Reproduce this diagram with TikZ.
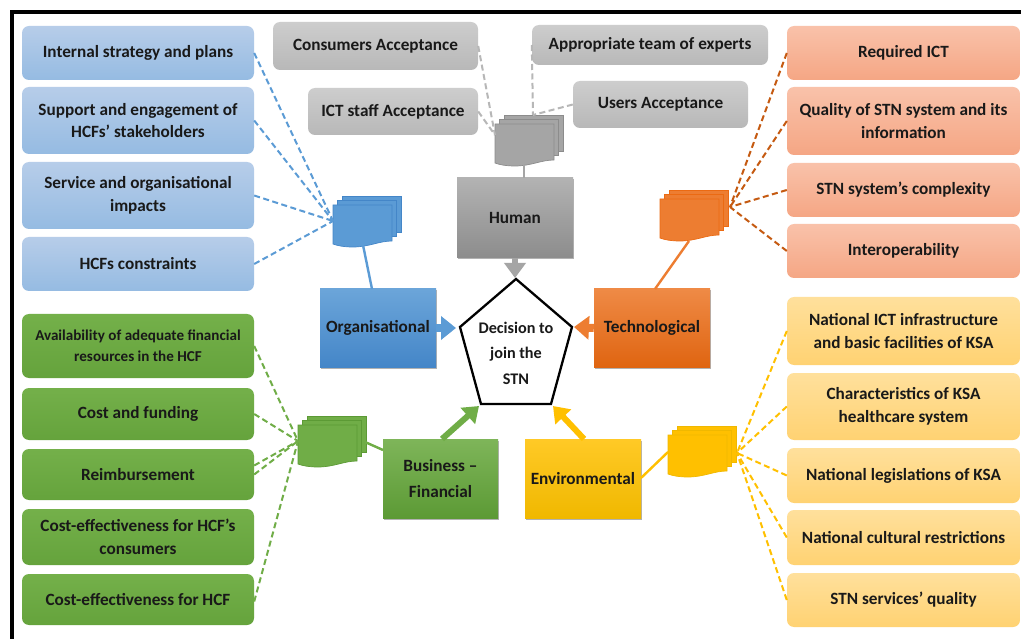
\documentclass[tikz,border=0pt]{standalone}
\usepackage{fontspec}
\setmainfont{Carlito}[BoldFont=Carlito Bold]
\usetikzlibrary{arrows.meta,shadows,calc}
\definecolor{bluehi}{HTML}{B7CDE9}\definecolor{bluelo}{HTML}{95BBE2}
\definecolor{bluemain}{HTML}{5B9BD5}\definecolor{bluedark}{HTML}{4486C8}
\definecolor{greenhi}{HTML}{74B04A}\definecolor{greenlo}{HTML}{65A33C}
\definecolor{greenmain}{HTML}{70AD47}\definecolor{greendark}{HTML}{5C9A35}
\definecolor{greyhi}{HTML}{CDCDCD}\definecolor{greylo}{HTML}{B8B8B8}
\definecolor{greymain}{HTML}{A5A5A5}\definecolor{greydark}{HTML}{8C8C8C}
\definecolor{orhi}{HTML}{F9C2AA}\definecolor{orlo}{HTML}{F5A684}
\definecolor{ormain}{HTML}{ED7D31}\definecolor{ordark}{HTML}{EB6A12}
\definecolor{orline}{HTML}{C55A11}
\definecolor{yehi}{HTML}{FFE09C}\definecolor{yelo}{HTML}{FFD272}
\definecolor{yemain}{HTML}{FFC000}\definecolor{yedark}{HTML}{F0B800}
\tikzset{
  x=1pt,y=-1pt,
  txt/.style={font=\fontsize{17.2}{22.5}\selectfont\bfseries,text=black!90,align=center},
  factor/.style={txt,rounded corners=7pt,inner sep=0pt},
  bluebox/.style={factor,top color=bluehi,bottom color=bluelo},
  greenbox/.style={factor,top color=greenhi,bottom color=greenlo},
  greybox/.style={factor,top color=greyhi,bottom color=greylo},
  orbox/.style={factor,top color=orhi,bottom color=orlo},
  yebox/.style={factor,top color=yehi,bottom color=yelo},
  cat/.style={txt,font=\fontsize{17.2}{26}\selectfont\bfseries,inner sep=0pt,
    drop shadow={shadow xshift=1pt,shadow yshift=-1.5pt,opacity=.3,fill=black}},
  dashlink/.style={dash pattern=on 6pt off 3.5pt,line width=2pt},
  solidlink/.style={line width=2.4pt},
  widearrow/.style={line width=8pt,-{Triangle[length=15pt,width=23pt]}},
  narrowarrow/.style={line width=6pt,-{Triangle[length=15pt,width=21pt]}},
  docline/.style={line width=.7pt},
}
\newcommand{\docsheet}[4]{%
  \fill[#3] (#1,#2) rectangle ++(59,36);
  \draw[docline,#4] (#1,#2) rectangle ++(59,36);
}
\newcommand{\docstack}[5]{%
  \coordinate (#1) at (#2,#3);
  \docsheet{#2+9}{#3-9}{#4}{#5}
  \docsheet{#2+4.5}{#3-4.5}{#4}{#5}
  \begin{scope}[shift={(#2,#3)}]
  \draw[docline,#5,fill=#4] (0,0) -- (59,0) -- (59,36)
     .. controls (46,36) and (36,42) .. (20,42)
     .. controls (12,42) and (5,41) .. (0,39) -- cycle;
  \end{scope}
}
\begin{document}
\begin{tikzpicture}
\useasboundingbox (0,0) rectangle (1021,639);
\fill[white] (0,0) rectangle (1021,639);
% frame
\draw[line width=4pt,black] (11.5,650) -- (11.5,12.5) -- (1030,12.5);

% stacks
\docstack{sb}{333}{205}{bluemain}{bluedark}
\docstack{sg}{495}{124}{greymain}{greydark}
\docstack{so}{660}{199}{ormain}{ordark}
\docstack{sn}{298}{425}{greenmain}{greendark}
\docstack{sy}{668}{435}{yemain}{yedark}
\coordinate (hb) at (333,221);
\coordinate (hgl) at (495,135);
\coordinate (hgr) at (533,115);
\coordinate (ho) at (730,207);
\coordinate (hn) at (298,441);
\coordinate (hy) at (737,453);

% factor boxes
\node[bluebox,minimum width=232pt,minimum height=54pt] (b1) at (138,53) {Internal strategy and plans};
\node[bluebox,minimum width=232pt,minimum height=67pt] (b2) at (138,120.5) {Support and engagement of\\HCFs’ stakeholders};
\node[bluebox,minimum width=232pt,minimum height=67pt] (b3) at (138,195.5) {Service and organisational\\impacts};
\node[bluebox,minimum width=232pt,minimum height=54pt] (b4) at (138,264) {HCFs constraints};

\node[greenbox,minimum width=232pt,minimum height=64pt,font=\fontsize{15.1}{21}\selectfont\bfseries] (n1) at (138,346) {Availability of adequate financial\\resources in the HCF};
\node[greenbox,minimum width=232pt,minimum height=52pt] (n2) at (138,414) {Cost and funding};
\node[greenbox,minimum width=232pt,minimum height=51pt] (n3) at (138,474.5) {Reimbursement};
\node[greenbox,minimum width=232pt,minimum height=56pt] (n4) at (138,537) {Cost-effectiveness for HCF’s\\consumers};
\node[greenbox,minimum width=232pt,minimum height=51pt] (n5) at (138,599.5) {Cost-effectiveness for HCF};

\node[greybox,minimum width=205pt,minimum height=48pt] (g1) at (375.5,46) {Consumers Acceptance};
\node[greybox,minimum width=170pt,minimum height=47pt] (g2) at (393,111.5) {ICT staff Acceptance};
\node[greybox,minimum width=236pt,minimum height=40pt] (g3) at (650,45) {Appropriate team of experts};
\node[greybox,minimum width=175pt,minimum height=47pt] (g4) at (660.5,104.5) {Users Acceptance};

\node[orbox,minimum width=233pt,minimum height=54pt] (o1) at (903.5,53) {Required ICT};
\node[orbox,minimum width=233pt,minimum height=68pt] (o2) at (903.5,121) {Quality of STN system and its\\information};
\node[orbox,minimum width=233pt,minimum height=54pt] (o3) at (903.5,190) {STN system’s complexity};
\node[orbox,minimum width=233pt,minimum height=54pt] (o4) at (903.5,251) {Interoperability};

\node[yebox,minimum width=233pt,minimum height=68pt] (y1) at (903.5,331) {National ICT infrastructure\\and basic facilities of KSA};
\node[yebox,minimum width=233pt,minimum height=67pt] (y2) at (903.5,406.5) {Characteristics of KSA\\healthcare system};
\node[yebox,minimum width=233pt,minimum height=55pt] (y3) at (903.5,475.5) {National legislations of KSA};
\node[yebox,minimum width=233pt,minimum height=55pt] (y4) at (903.5,537.5) {National cultural restrictions};
\node[yebox,minimum width=233pt,minimum height=54pt] (y5) at (903.5,600) {STN services’ quality};

% category boxes
\node[cat,minimum width=116pt,minimum height=80pt,top color=greymain!85!white,bottom color=greymain!85!black] (human) at (515,218) {Human};
\node[cat,minimum width=116pt,minimum height=78pt,top color=bluemain!90!white,bottom color=bluedark] (org) at (378,328) {Organisational};
\node[cat,minimum width=116pt,minimum height=78pt,top color=ormain!90!white,bottom color=ordark!95!black] (tec) at (652,328) {Technological};
\node[cat,minimum width=115pt,minimum height=79pt,top color=greenmain!90!white,bottom color=greendark] (bus) at (440.5,478.5) {Business –\\Financial};
\node[cat,minimum width=116pt,minimum height=79pt,top color=yemain!85!white,bottom color=yedark] (env) at (583,478.5) {Environmental};

% central pentagon
\coordinate (p1) at (516,279);\coordinate (p2) at (572,327);\coordinate (p3) at (551,404);\coordinate (p4) at (481,404);\coordinate (p5) at (460,327);
\draw[line width=2.3pt,black,fill=white,line join=miter] (p1)--(p2)--(p3)--(p4)--(p5)--cycle;
\node[txt,font=\fontsize{16.2}{25.5}\selectfont\bfseries] (dec) at (516,353) {Decision to\\join the\\STN};

% dashed connectors
\foreach \n in {b1,b2,b3,b4}{\draw[dashlink,bluemain] (\n.east) -- (hb);}
\draw[dashlink,greenmain] (n1.east) -- (hn);
\draw[dashlink,greenmain] (n2.east) -- (hn);
\draw[dashlink,greenmain] ([yshift=9pt]n3.east) -- (hn);
\draw[dashlink,greenmain] (n3.east) -- (hn);
\draw[dashlink,greenmain] ([yshift=-2pt]n5.east) -- (hn);
\draw[dashlink,greymain!80!white] (g1.east) -- (hgl);
\draw[dashlink,greymain!80!white] (g2.east) -- (hgl);
\draw[dashlink,greymain!80!white] (g3.west) -- (hgr);
\draw[dashlink,greymain!80!white] (g4.west) -- (hgr);
\foreach \n in {o1,o2,o3,o4}{\draw[dashlink,orline] (\n.west) -- (ho);}
\foreach \n in {y1,y2,y3,y4,y5}{\draw[dashlink,yemain] (\n.west) -- (hy);}

% solid connectors from stacks to categories
\coordinate (sbb) at (363,245);\coordinate (sgb) at (524,165);\coordinate (sob) at (689,241);\coordinate (snb) at (365,442);\coordinate (syb) at (668,452);
\draw[solidlink,bluemain] (sbb) -- (372,289);
\draw[solidlink,greymain] (sgb) -- (524,178);
\draw[solidlink,ormain] (sob) -- (655,289);
\draw[solidlink,greenmain] (snb) -- (383,450);
\draw[solidlink,yemain] (syb) -- (641,478);

% block arrows
\draw[widearrow,bluemain] (org.east) -- (456,328);
\draw[widearrow,ormain] (tec.west) -- (574,327);
\draw[narrowarrow,greymain] (human.south) -- (515,278);
\draw[narrowarrow,greenmain] (442,439) -- (479,406);
\draw[narrowarrow,yemain] (584,439) -- (553,406);
\end{tikzpicture}
\end{document}
